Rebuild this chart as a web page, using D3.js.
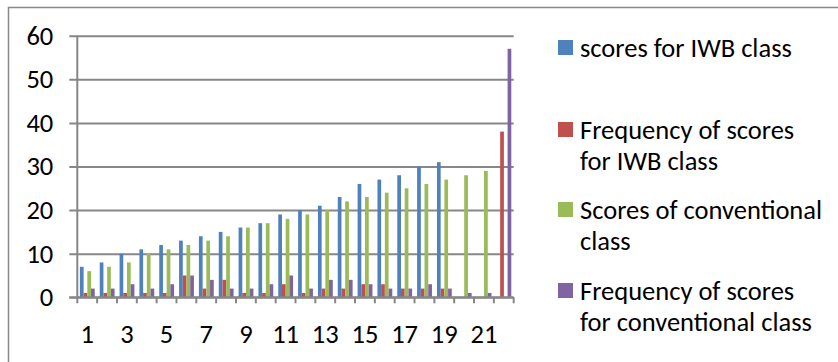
<!DOCTYPE html>
<html>
<head>
<meta charset="utf-8">
<script src="https://cdn.jsdelivr.net/npm/d3@7"></script>
<style>
  body { margin: 0; background: #fff; }
  text { font-family: Carlito, "Open Sans", sans-serif; fill: #000; }
</style>
</head>
<body>
<div id="chart"></div>
<script>
// categories 1..22
var categories = d3.range(1, 23);
var tickLabels = [1, 3, 5, 7, 9, 11, 13, 15, 17, 19, 21];
var yTicks = [0, 10, 20, 30, 40, 50, 60];

var seriesNames = ["scores for IWB class", "Frequency of scores for IWB class",
                   "Scores of conventional class", "Frequency of scores for conventional class"];
var seriesColors = ["#4F81BD", "#C0504D", "#9BBB59", "#8064A2"];

// values (null = no bar)
var iwbScores   = [7, 8, 10, 11, 12, 13, 14, 15, 16, 17, 19, 20, 21, 23, 26, 27, 28, 30, 31, null, null, null];
var iwbFreq     = [1, 1, 1, 1, 1, 5, 2, 4, 1, 1, 3, 1, 2, 2, 3, 3, 2, 2, 2, null, null, 38];
var convScores  = [6, 7, 8, 10, 11, 12, 13, 14, 16, 17, 18, 19, 20, 22, 23, 24, 25, 26, 27, 28, 29, null];
var convFreq    = [2, 2, 3, 2, 3, 5, 4, 2, 2, 3, 5, 2, 4, 4, 3, 2, 2, 3, 2, 1, 1, 57];

var allSeries = [iwbScores, iwbFreq, convScores, convFreq];

var W = 838, H = 362;
var margin = {top: 35.7, left: 77.3, right: W - 513.7, bottom: H - 297.3};
var width = W - margin.left - margin.right,
    height = H - margin.top - margin.bottom;
var fontSize = "26.5px";

var svg = d3.select("#chart")
  .append("svg")
    .attr("width", W)
    .attr("height", H);

// outer frame
svg.append("path")
  .attr("d", "M8.5," + (H + 5) + "V7.5H" + (W + 5))
  .attr("fill", "none")
  .attr("stroke", "#898989")
  .attr("stroke-width", 1.5);

var g = svg.append("g")
  .attr("transform", "translate(" + margin.left + "," + margin.top + ")");

var y = d3.scaleLinear().domain([0, 60]).range([height, 0]);
var x0 = d3.scaleBand().domain(categories).range([0, width]).padding(0);
var x1 = d3.scaleBand().domain(d3.range(4))
  .range([2.6, x0.bandwidth() - 2.4]).padding(0);

// gridlines + left ticks
g.append("g")
  .attr("transform", "translate(-8,0)")
  .call(d3.axisLeft(y).tickValues(yTicks).tickSize(-width - 8).tickFormat(""))
  .call(s => s.select(".domain").remove())
  .selectAll("line")
    .attr("stroke", "#878787")
    .attr("stroke-width", 2);

// y labels
g.append("g")
  .selectAll("text")
  .data(yTicks)
  .join("text")
    .attr("x", -24)
    .attr("y", d => y(d))
    .attr("dy", "0.34em")
    .attr("text-anchor", "end")
    .style("font-size", fontSize)
    .text(d => d);

// bars
var groups = g.append("g")
  .selectAll("g")
  .data(allSeries)
  .join("g")
    .attr("fill", (d, i) => seriesColors[i]);

groups.each(function(vals, si) {
  d3.select(this).selectAll("rect")
    .data(vals.map((v, i) => ({cat: categories[i], v: v})).filter(d => d.v != null))
    .join("rect")
      .attr("x", d => x0(d.cat) + x1(si))
      .attr("y", d => y(d.v))
      .attr("width", x1.bandwidth())
      .attr("height", d => height - y(d.v));
});

// y axis line
g.append("line")
  .attr("x1", 0).attr("x2", 0)
  .attr("y1", 0).attr("y2", height + 6)
  .attr("stroke", "#878787")
  .attr("stroke-width", 2);

// x axis line and ticks between categories
g.append("line")
  .attr("x1", -8).attr("x2", width)
  .attr("y1", height).attr("y2", height)
  .attr("stroke", "#878787")
  .attr("stroke-width", 2);
g.append("g")
  .selectAll("line")
  .data(categories.slice(1).concat([null]))
  .join("line")
    .attr("x1", d => d == null ? width : x0(d))
    .attr("x2", d => d == null ? width : x0(d))
    .attr("y1", height).attr("y2", height + 6)
    .attr("stroke", "#878787")
    .attr("stroke-width", 2);

// x labels
g.append("g")
  .selectAll("text")
  .data(tickLabels)
  .join("text")
    .attr("x", d => x0(d) + x0.bandwidth() / 2)
    .attr("y", height + 37)
    .attr("dy", "0.34em")
    .attr("text-anchor", "middle")
    .style("font-size", fontSize)
    .text(d => d);

// legend
var legendItems = [
  {lines: ["scores for IWB class"], y: 40},
  {lines: ["Frequency of scores", "for IWB class"], y: 122},
  {lines: ["Scores of conventional", "class"], y: 202},
  {lines: ["Frequency of scores", "for conventional class"], y: 283}
];
var legend = svg.append("g");
legendItems.forEach(function(item, i) {
  legend.append("rect")
    .attr("x", 558).attr("y", item.y)
    .attr("width", 15).attr("height", 15)
    .attr("fill", seriesColors[i]);
  item.lines.forEach(function(line, j) {
    legend.append("text")
      .attr("x", 580)
      .attr("y", item.y + 7.5 + j * 31)
      .attr("dy", "0.34em")
      .style("font-size", fontSize)
      .text(line);
  });
});
</script>
</body>
</html>
